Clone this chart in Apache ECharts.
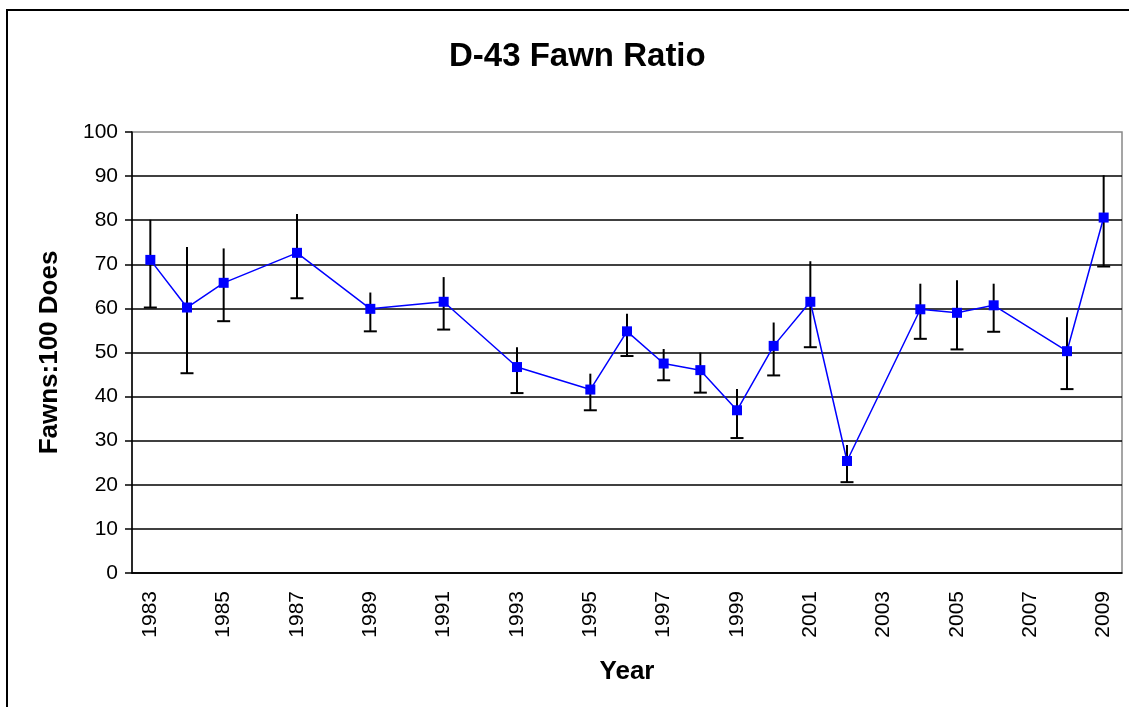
<!DOCTYPE html>
<html>
<head>
<meta charset="utf-8">
<script src="https://cdn.jsdelivr.net/npm/echarts@6/dist/echarts.min.js"></script>
<style>
  html, body { margin: 0; padding: 0; background: #fff; }
  #chart { width: 1129px; height: 707px; }
</style>
</head>
<body>
<div id="chart"></div>
<script>
// years on the category axis
var years = ['1983','1984','1985','1986','1987','1988','1989','1990','1991','1992','1993','1994','1995','1996',
             '1997','1998','1999','2000','2001','2002','2003','2004','2005','2006','2007','2008','2009'];
// fawns per 100 does (null = no survey)
var fawnRatio = [71.0, 60.2, 65.8, null, 72.6, null, 59.9, null, 61.5, null, 46.7, null, 41.6, 54.8,
                 47.5, 46.0, 36.9, 51.5, 61.5, 25.4, null, 59.8, 59.0, 60.7, null, 50.3, 80.6];
// error bar ends
var errLow  = [60.2, 45.3, 57.1, null, 62.3, null, 54.8, null, 55.2, null, 40.8, null, 36.9, 49.2,
               43.7, 40.9, 30.6, 44.8, 51.2, 20.6, null, 53.1, 50.7, 54.7, null, 41.7, 69.5];
var errHigh = [80.1, 73.9, 73.6, null, 81.4, null, 63.6, null, 67.1, null, 51.2, null, 45.2, 58.8,
               50.8, 50.0, 41.7, 56.8, 70.7, 29.0, null, 65.6, 66.4, 65.6, null, 58.0, 90.2];

var errData = [];
for (var i = 0; i < years.length; i++) {
    if (errLow[i] != null) errData.push([i, errLow[i], errHigh[i]]);
}

var font = '"Liberation Sans", Arial, sans-serif';
var myChart = echarts.init(document.getElementById('chart'));

var options = {
    animation: false,
    title: {
        text: 'D-43 Fawn Ratio',
        left: 444,
        top: 35,
        textStyle: { fontFamily: font, fontSize: 33, fontWeight: 'bold', color: '#000' }
    },
    graphic: [{
        type: 'rect',
        shape: { x: 7, y: 10, width: 1140, height: 720 },
        style: { fill: 'none', stroke: '#000', lineWidth: 2 },
        silent: true
    }],
    grid: {
        left: 132,
        right: 7,
        top: 132,
        bottom: 134,
        show: true,
        borderColor: '#888',
        borderWidth: 1.5
    },
    xAxis: {
        type: 'category',
        data: years,
        boundaryGap: true,
        name: 'Year',
        nameLocation: 'middle',
        nameGap: 86,
        nameTextStyle: { fontFamily: font, fontSize: 26, fontWeight: 'bold', color: '#000' },
        axisLine: { lineStyle: { color: '#000', width: 1.5 } },
        axisTick: { interval: 0, length: 7, lineStyle: { color: '#000', width: 1.5 } },
        axisLabel: {
            interval: 1,
            rotate: 90,
            margin: 18,
            fontFamily: font,
            fontSize: 21,
            color: '#000'
        },
        splitLine: { show: false }
    },
    yAxis: {
        type: 'value',
        min: 0,
        max: 100,
        interval: 10,
        name: 'Fawns:100 Does',
        nameLocation: 'middle',
        nameGap: 69,
        nameTextStyle: { fontFamily: font, fontSize: 26, fontWeight: 'bold', color: '#000' },
        axisLine: { show: true, lineStyle: { color: '#000', width: 1.5 } },
        axisTick: { show: true, length: 7, lineStyle: { color: '#000', width: 1.5 } },
        axisLabel: { margin: 14, fontFamily: font, fontSize: 21, color: '#000' },
        splitLine: { show: true, showMaxLine: false, lineStyle: { color: '#000', width: 1.5 } }
    },
    series: [
        {
            name: 'error',
            type: 'custom',
            z: 2,
            data: errData,
            renderItem: function (params, api) {
                var x = api.value(0);
                var lo = api.coord([x, api.value(1)]);
                var hi = api.coord([x, api.value(2)]);
                var cap = 6.5;
                return {
                    type: 'group',
                    children: [
                        {
                            type: 'line',
                            shape: { x1: lo[0], y1: lo[1], x2: hi[0], y2: hi[1] },
                            style: { stroke: '#000', lineWidth: 2 }
                        },
                        {
                            type: 'line',
                            shape: { x1: lo[0] - cap, y1: lo[1], x2: lo[0] + cap, y2: lo[1] },
                            style: { stroke: '#000', lineWidth: 2 }
                        }
                    ]
                };
            }
        },
        {
            name: 'Fawn Ratio',
            type: 'line',
            z: 3,
            data: fawnRatio,
            connectNulls: true,
            symbol: 'rect',
            symbolSize: 10,
            itemStyle: { color: '#0000ff' },
            lineStyle: { color: '#0000ff', width: 1.5 }
        }
    ]
};
myChart.setOption(options);
</script>
</body>
</html>
